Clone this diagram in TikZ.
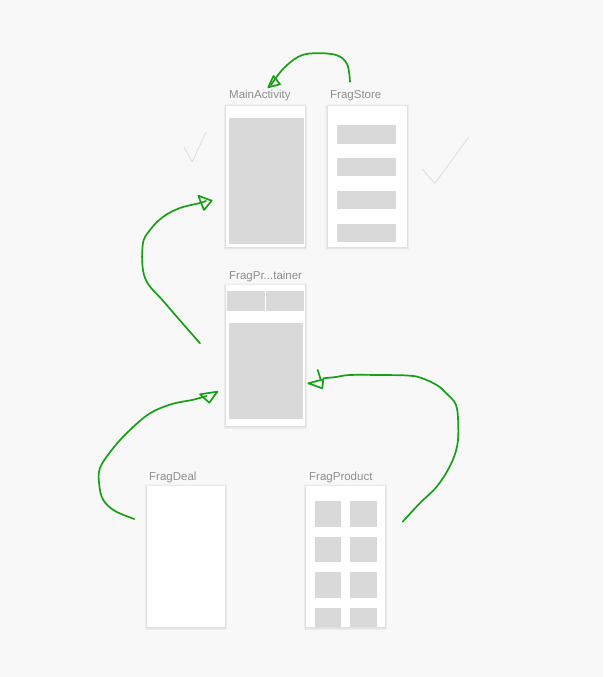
\documentclass[tikz,border=0pt]{standalone}
\usepackage{fontspec}
\setmainfont{Liberation Sans}
\begin{document}
\definecolor{canvas}{HTML}{F8F8F8}
\definecolor{block}{HTML}{D9D9D9}
\definecolor{labelgray}{HTML}{8E8E8E}
\definecolor{pen}{HTML}{17A017}
\definecolor{tick}{HTML}{DDDDDD}
\begin{tikzpicture}[x=1pt,y=-1pt,
  screen/.style={fill=white},
  part/.style={fill=block},
  title/.style={anchor=base west,inner sep=0pt,text=labelgray,font=\fontsize{11.5}{12}\selectfont},
  ink/.style={draw=pen,line width=1.7pt,line cap=round,line join=round},
  checkmark/.style={draw=tick,line width=0.8pt,line cap=round,line join=round}]
\useasboundingbox[fill=canvas] (0,0) rectangle (603,677);

% soft shadows under the screens (left, top, right, bottom)
\foreach \l/\t/\r/\b in {226/105.7/305/246.7, 327.7/105.7/407/246.7, 226/285/305/426, 147/486/225/627, 306/486/385/627}{
  \foreach \g in {2.4,1.8,1.2,0.6}
    \fill[black,opacity=0.022] (\l-\g,\t-\g+0.8) rectangle (\r+\g,\b+\g+0.8);
}

% MainActivity
\node[title] (tMain) at (229,99) {MainActivity};
\path[screen] (226,105.7) rectangle (305,246.7);
\fill[part] (229,117.7) rectangle (303.7,244);

% FragStore
\node[title] (tStore) at (330,99) {FragStore};
\path[screen] (327.7,105.7) rectangle (407,246.7);
\foreach \a/\b in {125/143.7, 158/176.3, 191/209, 223.7/241.7}
  \fill[part] (337.3,\a) rectangle (395.7,\b);

% FragPr...tainer
\node[title] (tCont) at (229,279) {FragPr...tainer};
\path[screen] (226,285) rectangle (305,426);
\fill[part] (227,291) rectangle (264.7,311);
\fill[part] (266.3,291) rectangle (304,311);
\fill[part] (229,323.3) rectangle (303,419);

% FragDeal
\node[title] (tDeal) at (149,480.3) {FragDeal};
\path[screen] (147,486) rectangle (225,627);

% FragProduct
\node[title] (tProd) at (309,480.3) {FragProduct};
\path[screen] (306,486) rectangle (385,627);
\foreach \a/\b in {501/526.7, 536.7/562.3, 572/597.7, 607.7/627}{
  \fill[part] (315,\a) rectangle (341,\b);
  \fill[part] (350,\a) rectangle (376.7,\b);}

% faint check marks
\draw[checkmark] (184,147) -- (192.3,161.7) -- (205.7,132.7);
\draw[checkmark] (422.3,169.3) -- (435,183.3) -- (469,136.7);

% hand-drawn arrows
% FragStore -> MainActivity
\draw[ink] plot[smooth,tension=0.6] coordinates {(350,81.7) (347,64) (336,55) (313,53.3) (298,57) (283,69) (271,85)};
\draw[ink] (268.3,87.3) -- (273.5,76) -- (280,84.3) -- cycle;

% FragPr...tainer -> MainActivity
\draw[ink] plot[smooth,tension=0.6] coordinates {(200,343.3) (165,303) (145,278) (142.7,245) (150,230) (163.3,216.7) (180,208) (198,203.5) (206,201)};
\draw[ink] (198.3,195.7) -- (211.7,200.7) -- (204,210) -- cycle;

% FragDeal -> FragPr...tainer
\draw[ink] plot[smooth,tension=0.6] coordinates {(134.3,519) (115,511) (103.3,500) (99.3,485) (100,468) (113.3,448) (130,430) (150,413.3) (172,404) (192,400) (206.7,396)};
\draw[ink] (200,394.3) -- (217.3,391.7) -- (209.3,402.7) -- cycle;

% FragProduct -> FragPr...tainer
\draw[ink] plot[smooth,tension=0.6] coordinates {(402.7,521.7) (420,503) (436.7,486.7) (450,466) (457,446.7) (458.3,426.7) (456,405) (446,393) (436.7,385) (420,377.5) (406.7,375.5) (380,375) (350,375) (336,377) (323.3,378.3)};
\draw[ink] (308.3,383.3) -- (323.3,379.3) -- (322.3,388.3) -- cycle;
\draw[ink] (317.7,370) -- (320.5,379);
\end{tikzpicture}
\end{document}
